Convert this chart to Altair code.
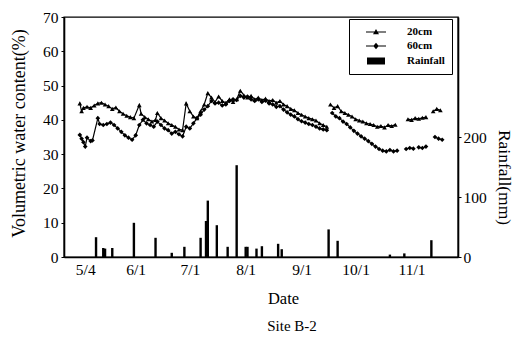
import altair as alt
import pandas as pd

YEAR = "2001-"
SERIF = "Liberation Serif"

# ---- 20 cm soil moisture (None = gap in record) ----
dates_20 = ["05-01", "05-02", "05-03", "05-05", "05-07", "05-09", "05-11", "05-13", "05-15", "05-17",
            "05-19", "05-21", "05-23", "05-25", "05-27", "05-29", "05-31", "06-03", "06-04", "06-06",
            "06-08", "06-10", "06-12", "06-13", "06-15", "06-17", "06-19", "06-21", "06-23", "06-25",
            "06-27", "06-29", "07-01", "07-03", "07-05", "07-07", "07-09", "07-11", "07-13", "07-15",
            "07-17", "07-19", "07-21", "07-23", "07-25", "07-27", "07-29", "07-31", "08-02", "08-04",
            "08-06", "08-08", "08-10", "08-12", "08-14", "08-16", "08-18", "08-20", "08-22", "08-24",
            "08-26", "08-28", "08-30", "09-01", "09-03", "09-05", "09-07", "09-09", "09-11", "09-13",
            "09-15", None, "09-17", "09-19", "09-21", "09-23", "09-25", "09-27", "09-29", "10-01",
            "10-03", "10-05", "10-07", "10-09", "10-11", "10-13", "10-15", "10-17", "10-19", "10-21",
            "10-23", None, "10-30", "11-01", "11-03", "11-05", "11-07", "11-09", None, "11-13",
            "11-15", "11-17"]
vals_20 = [44.8, 42.5, 43.5, 43.8, 43.5, 44.2, 44.8, 45.0, 44.5, 44.0,
           43.2, 43.6, 42.5, 41.8, 41.2, 40.8, 40.5, 44.3, 41.8, 40.8,
           40.2, 39.5, 40.0, 42.0, 40.5, 39.8, 39.0, 38.5, 38.0, 37.2,
           37.0, 44.8, 42.5, 41.0, 40.5, 42.5, 44.5, 47.8, 46.5, 45.2,
           46.8, 45.5, 45.0, 46.0, 45.2, 46.0, 48.5, 47.2, 46.5, 47.0,
           46.0, 46.5, 45.8, 46.2, 45.5, 45.8, 45.0, 45.5, 44.5, 44.0,
           43.2, 42.8, 42.0, 41.5, 41.0, 40.5, 40.2, 39.8, 39.0, 38.5,
           38.0, None, 44.5, 43.5, 44.0, 42.5, 42.0, 41.5, 41.0, 40.2,
           39.8, 39.5, 39.0, 38.8, 38.5, 38.0, 38.2, 37.8, 38.5, 38.2,
           38.6, None, 40.2, 40.0, 40.5, 40.3, 40.6, 40.8, None, 42.5,
           43.2, 42.8]

# ---- 60 cm soil moisture ----
dates_60 = ["05-01", "05-02", "05-03", "05-04", "05-05", "05-07", "05-08", "05-11", "05-12", "05-14",
            "05-16", "05-18", "05-20", "05-22", "05-24", "05-26", "05-28", "05-30", "06-01", "06-03",
            "06-05", "06-07", "06-09", "06-11", "06-13", "06-15", "06-17", "06-19", "06-21", "06-23",
            "06-25", "06-27", "06-29", "07-01", "07-03", "07-05", "07-07", "07-09", "07-11", "07-13",
            "07-15", "07-17", "07-19", "07-21", "07-23", "07-25", "07-27", "07-29", "07-31", "08-02",
            "08-04", "08-06", "08-08", "08-10", "08-12", "08-14", "08-16", "08-18", "08-20", "08-22",
            "08-24", "08-26", "08-28", "08-30", "09-01", "09-03", "09-05", "09-07", "09-09", "09-11",
            "09-13", "09-15", None, "09-18", "09-20", "09-22", "09-24", "09-26", "09-28", "09-30",
            "10-02", "10-04", "10-06", "10-08", "10-10", "10-12", "10-14", "10-16", "10-18", "10-20",
            "10-22", "10-24", None, "10-29", "10-31", "11-02", None, "11-05", "11-07", "11-09",
            None, "11-14", "11-16", "11-18"]
vals_60 = [35.6, 34.5, 33.5, 32.2, 34.8, 33.8, 34.0, 40.5, 38.8, 38.5,
           38.8, 39.2, 38.5, 37.5, 36.5, 35.5, 34.8, 34.2, 35.5, 38.5,
           40.0, 39.0, 38.5, 38.0, 39.5, 38.5, 37.5, 37.0, 36.0, 36.5,
           35.8, 35.2, 38.0, 37.5, 39.0, 40.5, 41.5, 43.0, 44.0, 45.5,
           44.8, 45.0, 44.2, 44.5, 45.5, 46.0, 45.8, 47.0, 46.5, 46.8,
           46.0, 45.5, 46.0, 45.2, 45.6, 44.8, 44.5, 43.8, 44.0, 43.0,
           42.2, 41.5, 41.0, 40.2, 39.6, 39.2, 38.8, 38.5, 38.0, 37.5,
           37.2, 37.0, None, 42.0, 41.0, 40.5, 39.5, 38.8, 37.8, 36.8,
           36.0, 35.2, 34.5, 33.8, 33.0, 32.2, 31.5, 31.0, 30.8, 31.2,
           30.8, 31.0, None, 31.5, 31.8, 31.6, None, 32.0, 31.8, 32.2,
           None, 35.0, 34.5, 34.2]

# ---- daily rainfall (mm) ----
rain_dates = ["05-10", "05-14", "05-15", "05-19", "05-31", "06-12", "06-21", "06-28", "07-07", "07-10",
              "07-11", "07-16", "07-22", "07-27", "08-01", "08-02", "08-07", "08-10", "08-19", "08-21",
              "09-16", "09-21", "10-20", "10-28", "11-12"]
rain_vals = [33, 15, 14, 15, 57, 32, 7, 17, 32, 60,
             94, 53, 17, 153, 17, 17, 14, 18, 22, 13,
             46, 27, 4, 6, 28]

series_names = ["20cm", "60cm", "Rainfall"]
x_ticks = [(5, 4), (6, 1), (7, 1), (8, 1), (9, 1), (10, 1), (11, 1)]


def build(dates, vals, name):
    rows, seg = [], 0
    for d, v in zip(dates, vals):
        if d is None:
            seg += 1
            continue
        rows.append({"date": YEAR + d, "value": v, "series": name, "seg": f"{name}-{seg}"})
    return rows


moist = pd.DataFrame(build(dates_20, vals_20, "20cm") + build(dates_60, vals_60, "60cm"))
rain = pd.DataFrame({"date": [YEAR + d for d in rain_dates], "rain": rain_vals, "series": "Rainfall"})

x_enc = alt.X(
    "date:T",
    scale=alt.Scale(type="utc", domain=[alt.DateTime(year=2001, month=4, date=25, utc=True),
                                        alt.DateTime(year=2001, month=11, date=24, utc=True)]),
    axis=alt.Axis(
        values=[alt.DateTime(year=2001, month=m, date=d, utc=True) for m, d in x_ticks],
        labelExpr="(utcmonth(datum.value) + 1) + '/' + utcdate(datum.value)",
        labelOverlap=False, ticks=False, labelPadding=5,
        labelFont=SERIF, labelFontSize=15.5, labelColor="black", grid=False,
        domainColor="black", domainWidth=1.6,
        title="Date", titleFont=SERIF, titleFontSize=16.5, titleFontWeight="normal", titleColor="black",
        titleX=219, titleY=41, titleBaseline="middle", titleAlign="center",
    ),
)

y_left = alt.Y(
    "value:Q",
    scale=alt.Scale(domain=[0, 70], nice=False),
    axis=alt.Axis(
        values=list(range(0, 71, 10)), tickSize=3, tickColor="black", labelPadding=3,
        labelFont=SERIF, labelFontSize=15.5, labelColor="black", grid=False,
        domainColor="black", domainWidth=1.6,
        title="Volumetric  water  content(%)", titleFont=SERIF, titleFontSize=18,
        titleFontWeight="normal", titleColor="black",
        titleAngle=-90, titleX=-45, titleY=116, titleBaseline="middle", titleAlign="center",
    ),
)

lines = alt.Chart(moist).mark_line(color="black", strokeWidth=1.2).encode(
    x=x_enc, y=y_left, detail="seg:N"
)

points = alt.Chart(moist).mark_point(filled=True, color="black", size=22, opacity=1).encode(
    x=x_enc, y=y_left,
    shape=alt.Shape("series:N", scale=alt.Scale(domain=["20cm", "60cm"], range=["triangle-up", "diamond"]),
                    legend=None),
)

legend_layer = alt.Chart(moist).mark_point(filled=True, color="black").encode(
    x=x_enc, y=y_left,
    shape=alt.Shape(
        "series:N", title=None,
        scale=alt.Scale(
            domain=series_names,
            range=["M-2,-0.11H2V0.11H-2ZM0,-0.6L0.6,0.45H-0.6Z",
                   "M-2,-0.11H2V0.11H-2ZM0,-0.65L0.55,0L0,0.65L-0.55,0Z",
                   "M-1.8,-0.7H1.8V0.7H-1.8Z"],
        ),
        legend=alt.Legend(
            orient="none", legendX=285, legendY=2, strokeColor="black", padding=7,
            symbolSize=100, symbolOffset=14, labelOffset=25, rowPadding=3,
            symbolFillColor="black", symbolStrokeColor="black", symbolStrokeWidth=1.2, symbolOpacity=1,
            labelFont=SERIF, labelFontSize=11, labelFontWeight="bold", labelColor="black",
            fillColor="white",
        ),
    ),
).transform_filter("datum.series == 'none'")

moisture = alt.layer(lines, points, legend_layer).resolve_scale(shape="independent")

bars = alt.Chart(rain).mark_bar(color="black", size=2.4).encode(
    x=x_enc,
    y=alt.Y(
        "rain:Q",
        scale=alt.Scale(domain=[0, 400], nice=False),
        axis=alt.Axis(
            orient="right", values=[0, 100, 200], tickSize=3, tickColor="black", labelPadding=2,
            labelFont=SERIF, labelFontSize=15.5, labelColor="black", grid=False,
            domainColor="black", domainWidth=1.6,
            title="Rainfall(mm)", titleFont=SERIF, titleFontSize=17.5, titleFontWeight="normal",
            titleColor="black", titleAngle=90, titleX=45, titleY=160,
            titleBaseline="middle", titleAlign="center",
        ),
    ),
)

chart = (
    alt.layer(bars, moisture)
    .resolve_scale(y="independent", shape="independent")
    .properties(
        width=394, height=240,
        autosize=alt.AutoSizeParams(type="none"),
        padding={"left": 64, "top": 17, "right": 60, "bottom": 80},
        title=alt.TitleParams("Site B-2", orient="bottom", anchor="middle", dx=31, offset=12,
                              font=SERIF, fontSize=15, fontWeight="normal", color="black"),
    )
    .configure_view(stroke="black", strokeWidth=1.4)
)

chart.save("out.html", embed_options={"renderer": "svg", "actions": False})
